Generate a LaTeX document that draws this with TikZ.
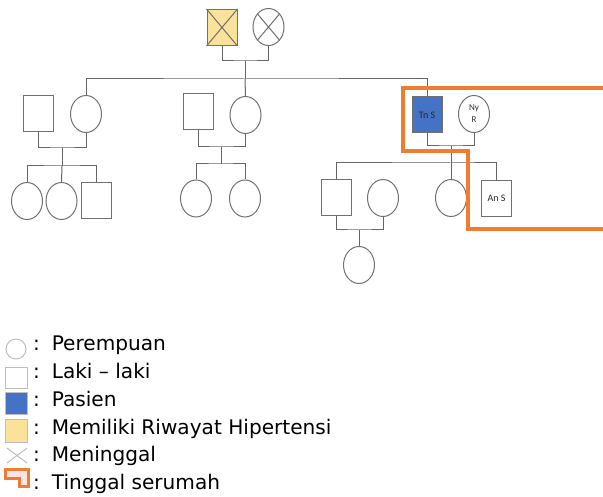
\documentclass[tikz,border=0pt]{standalone}
\usepackage{fontspec}
\setmainfont{DejaVu Sans}
\newfontfamily\smallfont{Carlito}
\usetikzlibrary{shapes.geometric}
\definecolor{lineC}{HTML}{666666}
\definecolor{shapeC}{HTML}{707070}
\definecolor{pasienC}{HTML}{4472C4}
\definecolor{hiperC}{HTML}{FBE29A}
\definecolor{houseC}{HTML}{ED7D31}
\definecolor{legC}{HTML}{BFBFBF}
\tikzset{
  male/.style={draw=shapeC, line width=1pt, rectangle, minimum width=30pt, minimum height=36pt, inner sep=0pt, fill=white},
  female/.style={draw=shapeC, line width=1pt, ellipse, minimum width=31pt, minimum height=37pt, inner sep=0pt, fill=white},
  conn/.style={draw=lineC, line width=1pt},
  tiny/.style={font=\smallfont\fontsize{10}{11}\selectfont, align=center, inner sep=0pt},
  legtext/.style={anchor=base west, inner sep=0pt, font=\fontsize{20.1}{24}\selectfont},
  legsym/.style={draw=legC, line width=1pt},
  house/.style={draw=houseC, line width=3.6pt, line join=miter},
}
\begin{document}
\begin{tikzpicture}[x=1pt,y=-1pt]
\useasboundingbox[fill=white] (0,0) rectangle (603,497);

% generation I
\node[male, fill=hiperC] (gf) at (222,27.5) {};
\node[female] (gm) at (268.5,27) {};
\draw[draw=shapeC, line width=1pt] (gf.north west) -- (gf.south east) (gf.north east) -- (gf.south west);
\draw[draw=shapeC, line width=1pt] (gm.north west) -- (gm.south east) (gm.north east) -- (gm.south west);
\coordinate (cA) at (245,61);
\coordinate (sA) at (245,79);

% generation II
\node[male] (h1) at (38.5,114) {};
\node[female] (w1) at (86,114) {};
\node[male] (h2) at (198,112) {};
\node[female] (w2) at (245.5,115) {};
\node[male, fill=pasienC, draw=shapeC] (tn) at (427,115) {};
\node[tiny, text=black!85] at (tn) {Tn S};
\node[female] (ny) at (474,114) {};
\node[tiny, font=\smallfont\fontsize{9}{12}\selectfont, text=black!80] at (ny) {Ny\\R};

% generation III
\node[female] (k11) at (27,201) {};
\node[female] (k12) at (61.5,201) {};
\node[male] (k13) at (96.5,201) {};
\node[female] (k21) at (196,198.5) {};
\node[female] (k22) at (245,198.5) {};
\node[male] (k31) at (336,198) {};
\node[female] (k31w) at (383,198) {};
\node[female] (k32) at (451,198) {};
\node[male] (k33) at (496.5,198.5) {};
\node[tiny, text=black!85] at (k33) {An S};

% generation IV
\node[female] (gk) at (359,265) {};

% coordinates
\coordinate (c1) at (62,148);
\coordinate (s1) at (62,166);
\coordinate (c2) at (221,147);
\coordinate (s2) at (221,164);
\coordinate (c3) at (451,146);
\coordinate (s3) at (451,163);
\coordinate (c4) at (359,230);

% connectors
\draw[conn] (gf.south) |- (cA) -| (gm.south);
\draw[conn] (cA) -- (sA);
\draw[conn] (w1.north) |- (sA) -| (tn.north);
\draw[conn] (sA) -- (w2.north);

\draw[conn] (h1.south) |- (c1) -| (w1.south);
\draw[conn] (c1) -- (s1);
\draw[conn] (k11.north) |- (s1) -| (k13.north);
\draw[conn] (s1) -- (k12.north);

\draw[conn] (h2.south) |- (c2) -| (w2.south);
\draw[conn] (c2) -- (s2);
\draw[conn] (k21.north) |- (s2) -| (k22.north);

\draw[conn] (tn.south) |- (c3) -| (ny.south);
\draw[conn] (c3) -- (s3);
\draw[conn] (k31.north) |- (s3) -| (k33.north);
\draw[conn] (s3) -- (k32.north);

\draw[conn] (k31.south) |- (c4) -| (k31w.south);
\draw[conn] (c4) -- (gk.north);

% household
\draw[house] (612,88) -- (403,88) -- (403,151) -- (468,151) -- (468,229) -- (612,229);

% legend
\node[legsym, circle, minimum size=20pt, inner sep=0pt] (lf) at (16,349) {};
\node[legsym, rectangle, minimum width=22pt, minimum height=21pt, inner sep=0pt] (lm) at (16,377.5) {};
\node[legsym, rectangle, fill=pasienC, minimum width=22pt, minimum height=22pt, inner sep=0pt] (lp) at (16,403) {};
\node[legsym, rectangle, fill=hiperC, minimum width=22pt, minimum height=23pt, inner sep=0pt] (lh) at (16,430.5) {};
\coordinate (lx1) at (7,448);
\coordinate (lx2) at (27,463);
\coordinate (lx3) at (27,448);
\coordinate (lx4) at (7,463);
\draw[legsym] (lx1) -- (lx2) (lx3) -- (lx4);
\draw[draw=houseC, line width=3pt, fill=pink!40, line join=miter] (5,469.5) -- (28,469.5) -- (28,486) -- (19,486) -- (19,478) -- (5,478) -- cycle;

\node[legtext] at (33,350.7) {:\, Perempuan};
\node[legtext] at (33,378.5) {:\, Laki – laki};
\node[legtext] at (33,406.3) {:\, Pasien};
\node[legtext] at (33,434.1) {:\, Memiliki Riwayat Hipertensi};
\node[legtext] at (33,461.9) {:\, Meninggal};
\node[legtext] at (33,489.7) {:\, Tinggal serumah};
\end{tikzpicture}
\end{document}
